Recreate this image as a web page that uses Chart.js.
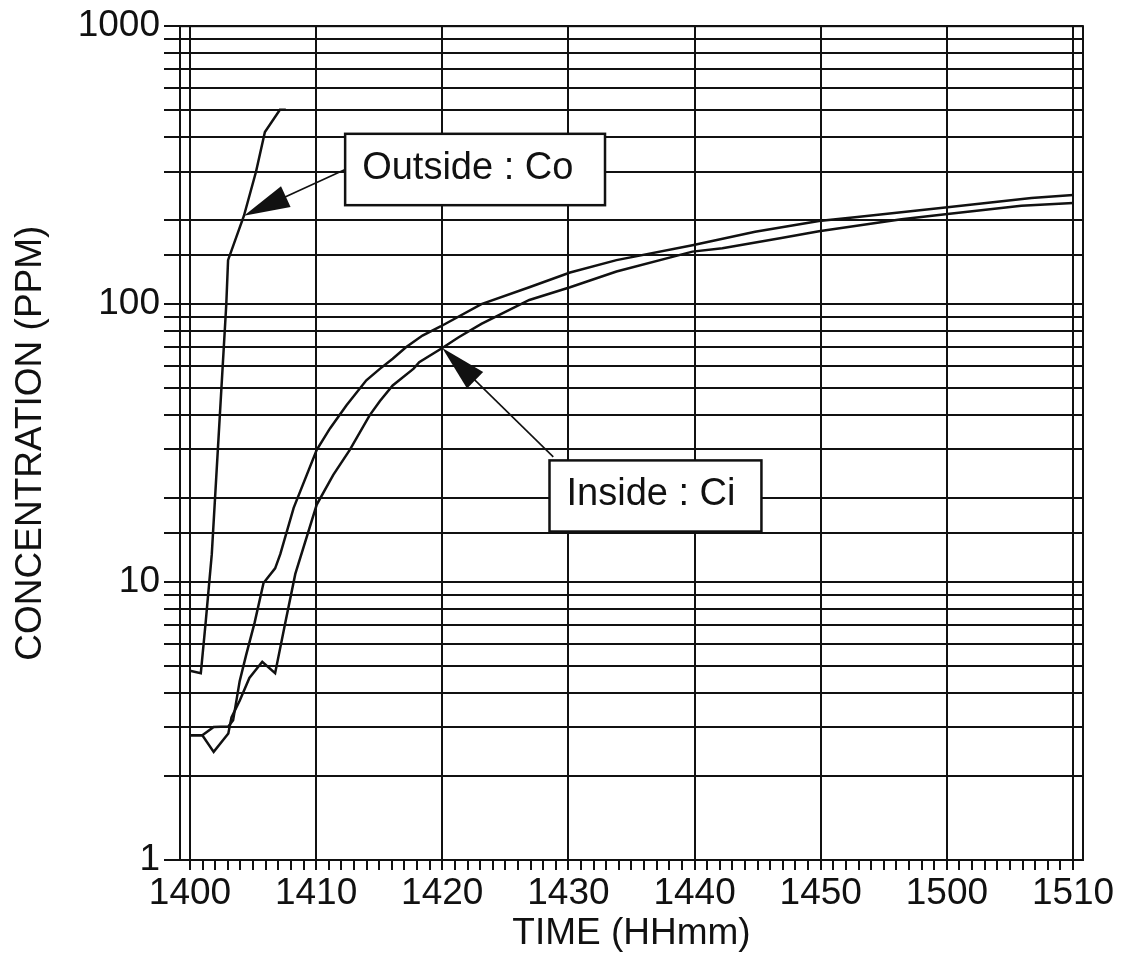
<!DOCTYPE html>
<html>
<head>
<meta charset="utf-8">
<title>Concentration vs time</title>
<script src="https://cdn.jsdelivr.net/npm/chart.js@4.4.1/dist/chart.umd.min.js"></script>
<style>
  html, body { margin: 0; padding: 0; background: #fff; }
  #wrap { width: 1139px; height: 953px; }
</style>
</head>
<body>
<div id="wrap"><canvas id="concChart"></canvas></div>
<script>
// x = minutes after 14:00, y = ppm
const outsideMin = [0, 0.86, 1.25, 1.73, 2.88, 3.02, 4.28, 5.24, 5.94, 7.13, 7.6];
const outsideCo  = [4.8, 4.7, 7.2, 12.6, 100, 144, 208, 300, 416, 500, 500];

const insideMinA = [0, 0.98, 1.88, 3.04, 3.42, 3.94, 4.45, 5.13, 5.83, 6.75, 7.16, 8.22, 10.05, 11.1, 12.41,
  13.98, 15.05, 16.07, 17.12, 18.43, 19.86, 23.1, 26.9, 30.13, 33.81, 39.83, 44.8, 49.86, 52.9, 60.05, 66.7, 70];
const insideCiA  = [2.81, 2.81, 3.01, 3.02, 3.18, 4.4, 5.46, 7.16, 9.92, 11.2, 12.6, 18.5, 29.9, 35.7, 43.3,
  53.2, 58.5, 63.6, 70, 77.1, 83.1, 100, 115, 130, 144, 163, 182, 199, 206, 223, 241, 247];

const insideMinB = [0, 0.98, 1.88, 3.04, 3.29, 3.94, 4.71, 5.73, 6.75, 7.56, 8.35, 10.05, 11.36, 12.67, 14.24,
  15.06, 16.07, 17.73, 18.17, 20, 21.3, 23.1, 26.9, 30.13, 33.81, 39.83, 42.2, 46.88, 49.86, 56.4, 60.05, 65.9, 70];
const insideCiB  = [2.81, 2.81, 2.45, 2.85, 3.26, 3.74, 4.52, 5.17, 4.7, 7.16, 10.7, 19, 24.3, 29.9, 39.8,
  44.8, 51, 58.6, 61.8, 69.5, 76, 84.9, 103.5, 115, 131, 154.5, 159, 173, 183, 202, 211, 226, 231];

const timeLabels = ['1400', '1410', '1420', '1430', '1440', '1450', '1500', '1510'];
const decadeTicks = [1, 10, 100, 1000];

const ink = '#111';
const fontFamily = "'Liberation Sans', Arial, Helvetica, sans-serif";

function toPoints(xs, ys) {
  return xs.map((x, i) => ({ x: x, y: ys[i] }));
}

// callout boxes with arrows, in data units (minutes, ppm)
const notes = [
  { text: 'Outside : Co', box: [12.3, 32.9, 410, 227], tail: [12.3, 305], tip: [4.28, 208] },
  { text: 'Inside : Ci', box: [28.5, 45.3, 27.4, 15.2], tail: [28.8, 28.2], tip: [20.0, 69.5] }
];

const framePlugin = {
  id: 'frame',
  beforeDatasetsDraw(chart) {
    const { ctx, chartArea: a } = chart;
    ctx.save();
    ctx.strokeStyle = ink;
    ctx.lineWidth = 2;
    ctx.strokeRect(a.left, a.top, a.right - a.left, a.bottom - a.top);
    ctx.restore();
  }
};

const notePlugin = {
  id: 'notes',
  afterDatasetsDraw(chart) {
    const { ctx } = chart;
    const xs = chart.scales.x, ys = chart.scales.y;
    ctx.save();
    notes.forEach(n => {
      const x1 = xs.getPixelForValue(n.box[0]), x2 = xs.getPixelForValue(n.box[1]);
      const y1 = ys.getPixelForValue(n.box[2]), y2 = ys.getPixelForValue(n.box[3]);
      const tx = xs.getPixelForValue(n.tail[0]), ty = ys.getPixelForValue(n.tail[1]);
      const px = xs.getPixelForValue(n.tip[0]), py = ys.getPixelForValue(n.tip[1]);

      // arrow shaft + head
      const dx = tx - px, dy = ty - py, len = Math.hypot(dx, dy);
      const ux = dx / len, uy = dy / len;
      const hl = 46, hw = 11.5;
      ctx.strokeStyle = ink;
      ctx.lineWidth = 1.6;
      ctx.beginPath();
      ctx.moveTo(tx, ty);
      ctx.lineTo(px + ux * hl * 0.8, py + uy * hl * 0.8);
      ctx.stroke();
      ctx.fillStyle = ink;
      ctx.beginPath();
      ctx.moveTo(px, py);
      ctx.lineTo(px + ux * hl - uy * hw, py + uy * hl + ux * hw);
      ctx.lineTo(px + ux * hl + uy * hw, py + uy * hl - ux * hw);
      ctx.closePath();
      ctx.fill();

      // box
      ctx.fillStyle = '#fff';
      ctx.fillRect(x1, y1, x2 - x1, y2 - y1);
      ctx.lineWidth = 2.5;
      ctx.strokeRect(x1, y1, x2 - x1, y2 - y1);

      ctx.fillStyle = ink;
      ctx.font = '38px ' + fontFamily;
      ctx.textAlign = 'left';
      ctx.textBaseline = 'alphabetic';
      ctx.fillText(n.text, x1 + 17, y1 + 45);
    });
    ctx.restore();
  }
};

const lineStyle = { borderColor: ink, borderWidth: 2.5, pointRadius: 0, fill: false, tension: 0 };

new Chart(document.getElementById('concChart'), {
  type: 'line',
  data: {
    datasets: [
      Object.assign({ label: 'Outside : Co', data: toPoints(outsideMin, outsideCo) }, lineStyle),
      Object.assign({ label: 'Inside : Ci', data: toPoints(insideMinA, insideCiA) }, lineStyle),
      Object.assign({ label: 'Inside : Ci', data: toPoints(insideMinB, insideCiB) }, lineStyle)
    ]
  },
  options: {
    responsive: true,
    maintainAspectRatio: false,
    animation: false,
    layout: { padding: { top: 22, right: 56, bottom: 0, left: 0 } },
    plugins: {
      legend: { display: false },
      tooltip: { enabled: false }
    },
    scales: {
      x: {
        type: 'linear',
        min: -0.79,
        max: 70.79,
        afterFit: s => { s.height = 93; },
        grid: {
          color: c => (c.tick && c.tick.value % 10 === 0) ? ink : 'rgba(0,0,0,0)',
          tickColor: ink,
          lineWidth: 2,
          tickLength: 10
        },
        border: { color: ink, width: 2 },
        ticks: {
          stepSize: 1,
          includeBounds: false,
          autoSkip: false,
          maxRotation: 0,
          minRotation: 0,
          padding: 2,
          color: ink,
          font: { family: fontFamily, size: 37 },
          callback: v => (v % 10 === 0 ? timeLabels[v / 10] : '')
        },
        title: {
          display: true,
          text: 'TIME (HHmm)',
          color: ink,
          font: { family: fontFamily, size: 37, lineHeight: 1 },
          padding: { top: 0, bottom: 1 }
        }
      },
      y: {
        type: 'logarithmic',
        min: 1,
        max: 1000,
        afterFit: s => { s.width = 180; },
        grid: { color: ink, lineWidth: 2, tickLength: 16 },
        border: { color: ink, width: 2 },
        ticks: {
          autoSkip: false,
          padding: 4,
          color: ink,
          font: { family: fontFamily, size: 37 },
          callback: v => (decadeTicks.includes(v) ? String(v) : '')
        },
        title: {
          display: true,
          text: 'CONCENTRATION (PPM)',
          color: ink,
          font: { family: fontFamily, size: 37, lineHeight: 1 },
          padding: { top: 12, bottom: 0 }
        }
      }
    }
  },
  plugins: [framePlugin, notePlugin]
});
</script>
</body>
</html>
